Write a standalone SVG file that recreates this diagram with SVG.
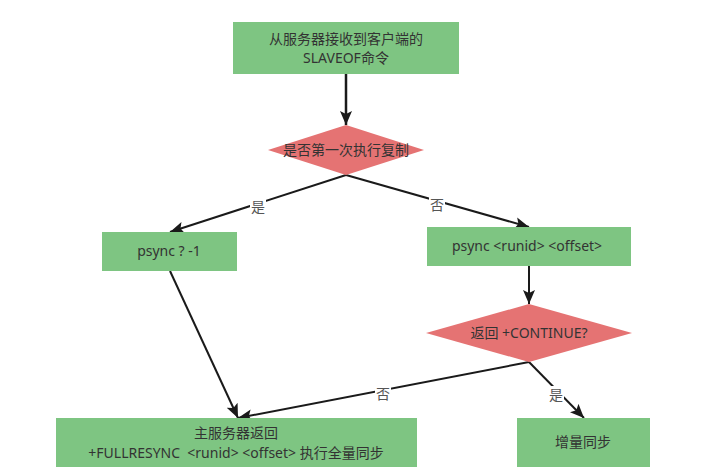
<svg xmlns="http://www.w3.org/2000/svg" width="716" height="473" viewBox="0 0 716 473">
<defs>
<marker id="ah" viewBox="0 0 14 12" refX="14" refY="6" markerWidth="14" markerHeight="12" markerUnits="userSpaceOnUse" orient="auto">
<path d="M0,0 L14,6 L0,12 L3,6 z" fill="#1a1a1a"/>
</marker>
<style>
.box{fill:#7ec582;}
.dia{fill:#e57373;}
text{font-family:"Noto Sans","Noto Sans CJK SC",sans-serif;font-size:14px;fill:#333;text-anchor:middle;}
.edge{stroke:#1a1a1a;stroke-width:2;fill:none;}
.lbl{fill:#fff;}
.el{fill:#555;}
</style>
</defs>
<rect width="716" height="473" fill="#fff"/>
<g id="connectors">
<line class="edge" x1="346" y1="74" x2="346" y2="125" marker-end="url(#ah)" style="stroke-width:2.5"/>
<path class="edge" d="M346,175 L170,232" marker-end="url(#ah)"/>
<path class="edge" d="M346,175 L529,227" marker-end="url(#ah)"/>
<line class="edge" x1="529" y1="266" x2="529" y2="304" marker-end="url(#ah)"/>
<path class="edge" d="M529,362 L584,418" marker-end="url(#ah)"/>
<path class="edge" d="M529,362 L238,418" marker-end="url(#ah)"/>
<path class="edge" d="M170,271 L238,418" marker-end="url(#ah)"/>
<rect class="lbl" x="250" y="198" width="16" height="17"/>
<text class="el" x="258" y="212">是</text>
<rect class="lbl" x="429" y="196" width="16" height="17"/>
<text class="el" x="437" y="210">否</text>
<rect class="lbl" x="548" y="386" width="16" height="17"/>
<text class="el" x="556" y="400">是</text>
<rect class="lbl" x="375" y="385" width="16" height="17"/>
<text class="el" x="383" y="399">否</text>
</g>
<g id="start">
<rect class="box" x="233" y="22" width="226" height="52"/>
<text x="346" y="44">从服务器接收到客户端的</text>
<text x="346" y="63">SLAVEOF命令</text>
</g>
<g id="first">
<polygon class="dia" points="346,125 424,150 346,175 268,150"/>
<text x="346" y="155">是否第一次执行复制</text>
</g>
<g id="psync1">
<rect class="box" x="102" y="232" width="135" height="39"/>
<text x="169" y="256">psync ? -1</text>
</g>
<g id="psync2">
<rect class="box" x="427" y="227" width="204" height="39"/>
<text x="527" y="251">psync &lt;runid&gt; &lt;offset&gt;</text>
</g>
<g id="cont">
<polygon class="dia" points="529,304 632,333 529,362 426,333"/>
<text x="529" y="338">返回 +CONTINUE?</text>
</g>
<g id="full">
<rect class="box" x="56" y="418" width="361" height="49"/>
<text x="236" y="438">主服务器返回</text>
<text x="236" y="458" xml:space="preserve">+FULLRESYNC  &lt;runid&gt; &lt;offset&gt; 执行全量同步</text>
</g>
<g id="incr">
<rect class="box" x="517" y="418" width="133" height="49"/>
<text x="583" y="447">增量同步</text>
</g>
</svg>
